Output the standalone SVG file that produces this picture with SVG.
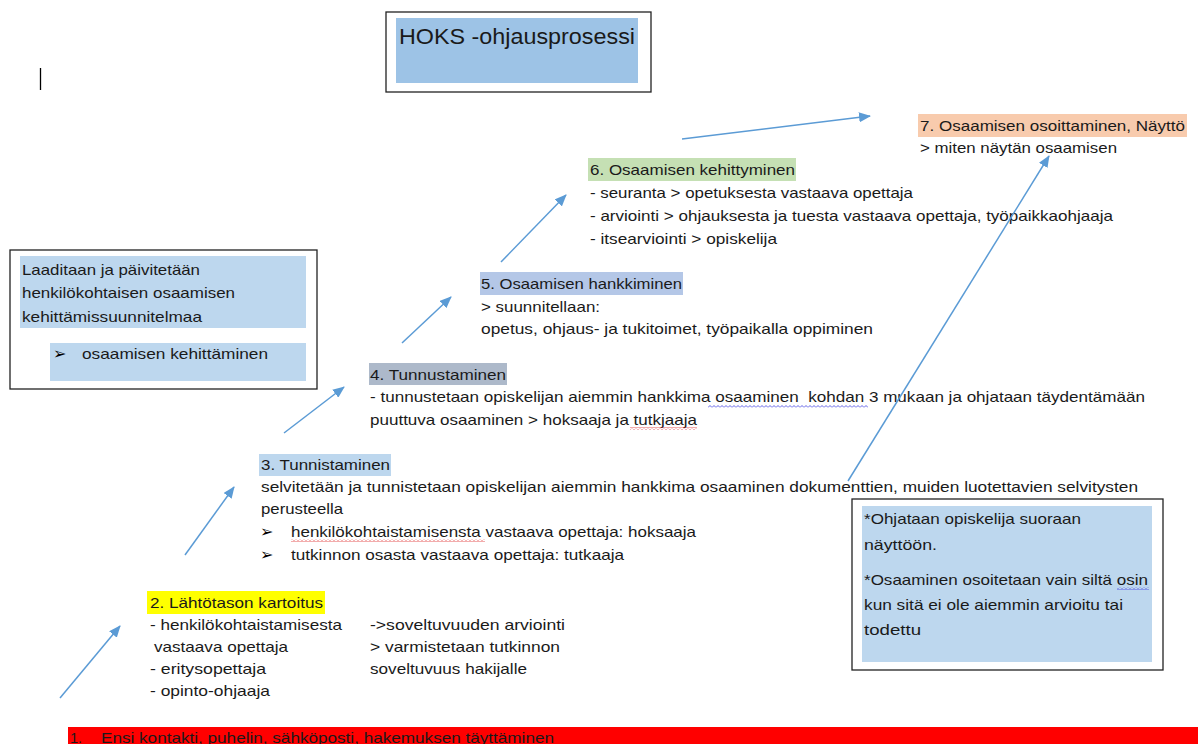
<svg xmlns="http://www.w3.org/2000/svg" width="1198" height="744" viewBox="0 0 1198 744">
<style>
text{font-family:"Liberation Sans",Arial,sans-serif;font-size:14.5px;fill:#1a1a1a}
.t{font-size:22px}
.bul{font-family:"DejaVu Sans",sans-serif;font-size:16px;font-weight:bold;fill:#000}
.frame{fill:#fff;stroke:#222;stroke-width:1.3}
.conn{stroke:#5b9bd5;stroke-width:1.5;fill:none;marker-end:url(#ah)}
</style>
<defs>
<marker id="ah" viewBox="0 0 12 10" refX="11" refY="5" markerWidth="12" markerHeight="10" markerUnits="userSpaceOnUse" orient="auto">
<path d="M0,0 L12,5 L0,10 Z" fill="#5b9bd5"/>
</marker>
<pattern id="wr" width="4" height="3" patternUnits="userSpaceOnUse"><path d="M0,2.5 L2,0.5 L4,2.5" fill="none" stroke="#e03030" stroke-width="0.8"/></pattern>
<pattern id="wb" width="4" height="3" patternUnits="userSpaceOnUse"><path d="M0,2.5 L2,0.5 L4,2.5" fill="none" stroke="#3a3ae0" stroke-width="0.8"/></pattern>
</defs>
<rect width="1198" height="744" fill="#fff"/>
<line x1="40.5" y1="68" x2="40.5" y2="90" stroke="#000" stroke-width="1.3"/>

<g id="title">
<rect class="frame" x="386" y="12" width="265" height="80"/>
<rect x="396" y="18" width="242" height="65" fill="#9dc3e6"/>
<text class="t" x="399" y="44" textLength="236" lengthAdjust="spacingAndGlyphs">HOKS -ohjausprosessi</text>
</g>

<g id="hoks-box">
<rect class="frame" x="10" y="250" width="307" height="139"/>
<rect x="20" y="256" width="286" height="72" fill="#bdd7ee"/>
<text x="22" y="275" textLength="178" lengthAdjust="spacingAndGlyphs">Laaditaan ja päivitetään</text>
<text x="22" y="298" textLength="213" lengthAdjust="spacingAndGlyphs">henkilökohtaisen osaamisen</text>
<text x="22" y="322" textLength="180" lengthAdjust="spacingAndGlyphs">kehittämissuunnitelmaa</text>
<rect x="50" y="343" width="256" height="38" fill="#bdd7ee"/>
<text class="bul" x="53" y="359">➢</text>
<text x="82" y="359" textLength="186" lengthAdjust="spacingAndGlyphs">osaamisen kehittäminen</text>
</g>

<g id="step7">
<rect x="918" y="114" width="269" height="23" fill="#f8cbad"/>
<text x="920" y="131" textLength="265" lengthAdjust="spacingAndGlyphs">7. Osaamisen osoittaminen, Näyttö</text>
<text x="920" y="153" textLength="197" lengthAdjust="spacingAndGlyphs">&gt; miten näytän osaamisen</text>
</g>

<g id="step6">
<rect x="588" y="158" width="208" height="23" fill="#c5e0b4"/>
<text x="590" y="175" textLength="205" lengthAdjust="spacingAndGlyphs">6. Osaamisen kehittyminen</text>
<text x="590" y="198" textLength="323" lengthAdjust="spacingAndGlyphs">- seuranta &gt; opetuksesta vastaava opettaja</text>
<text x="590" y="221" textLength="523" lengthAdjust="spacingAndGlyphs">- arviointi &gt; ohjauksesta ja tuesta vastaava opettaja, työpaikkaohjaaja</text>
<text x="590" y="244" textLength="187" lengthAdjust="spacingAndGlyphs">- itsearviointi &gt; opiskelija</text>
</g>

<g id="step5">
<rect x="480" y="272" width="203" height="23" fill="#b4c7e7"/>
<text x="481" y="289" textLength="201" lengthAdjust="spacingAndGlyphs">5. Osaamisen hankkiminen</text>
<text x="481" y="312" textLength="119" lengthAdjust="spacingAndGlyphs">&gt; suunnitellaan:</text>
<text x="481" y="334" textLength="392" lengthAdjust="spacingAndGlyphs">opetus, ohjaus- ja tukitoimet, työpaikalla oppiminen</text>
</g>

<g id="step4">
<rect x="369" y="363" width="138" height="22" fill="#adb9ca"/>
<text x="370" y="380" textLength="136" lengthAdjust="spacingAndGlyphs">4. Tunnustaminen</text>
<text x="370" y="402" textLength="775" lengthAdjust="spacingAndGlyphs" xml:space="preserve">- tunnustetaan opiskelijan aiemmin hankkima osaaminen  kohdan 3 mukaan ja ohjataan täydentämään</text>
<text x="370" y="425" textLength="327" lengthAdjust="spacingAndGlyphs">puuttuva osaaminen &gt; hoksaaja ja tutkjaaja</text>
<rect x="708" y="405" width="160" height="3" fill="url(#wb)"/>
<rect x="630" y="427" width="67" height="3" fill="url(#wr)"/>
</g>

<g id="step3">
<rect x="259" y="454" width="132" height="22" fill="#bdd7ee"/>
<text x="261" y="470" textLength="129" lengthAdjust="spacingAndGlyphs">3. Tunnistaminen</text>
<text x="261" y="492" textLength="877" lengthAdjust="spacingAndGlyphs">selvitetään ja tunnistetaan opiskelijan aiemmin hankkima osaaminen dokumenttien, muiden luotettavien selvitysten</text>
<text x="261" y="514" textLength="82" lengthAdjust="spacingAndGlyphs">perusteella</text>
<text class="bul" x="260" y="537">➢</text>
<text x="291" y="537" textLength="405" lengthAdjust="spacingAndGlyphs">henkilökohtaistamisensta vastaava opettaja: hoksaaja</text>
<text class="bul" x="260" y="560">➢</text>
<text x="291" y="560" textLength="333" lengthAdjust="spacingAndGlyphs">tutkinnon osasta vastaava opettaja: tutkaaja</text>
<rect x="291" y="539" width="194" height="3" fill="url(#wr)"/>
</g>

<g id="step2">
<rect x="147" y="591" width="178" height="23" fill="#ffff00"/>
<text x="150" y="608" textLength="173" lengthAdjust="spacingAndGlyphs">2. Lähtötason kartoitus</text>
<text x="150" y="630" textLength="192" lengthAdjust="spacingAndGlyphs">- henkilökohtaistamisesta</text>
<text x="154" y="652" textLength="134" lengthAdjust="spacingAndGlyphs">vastaava opettaja</text>
<text x="150" y="674" textLength="116" lengthAdjust="spacingAndGlyphs">- eritysopettaja</text>
<text x="150" y="696" textLength="120" lengthAdjust="spacingAndGlyphs">- opinto-ohjaaja</text>
<text x="370" y="630" textLength="195" lengthAdjust="spacingAndGlyphs">-&gt;soveltuvuuden arviointi</text>
<text x="370" y="652" textLength="190" lengthAdjust="spacingAndGlyphs">&gt; varmistetaan tutkinnon</text>
<text x="370" y="674" textLength="157" lengthAdjust="spacingAndGlyphs">soveltuvuus hakijalle</text>
</g>

<g id="step1">
<rect x="68" y="727" width="1130" height="17" fill="#ff0000"/>
<text x="70" y="743">1.</text>
<text x="101" y="743" textLength="453" lengthAdjust="spacingAndGlyphs">Ensi kontakti, puhelin, sähköposti, hakemuksen täyttäminen</text>
</g>

<g id="note">
<rect class="frame" x="852" y="499" width="311" height="171"/>
<rect x="862" y="506" width="290" height="156" fill="#bdd7ee"/>
<text x="864" y="524" textLength="217" lengthAdjust="spacingAndGlyphs">*Ohjataan opiskelija suoraan</text>
<text x="864" y="550" textLength="73" lengthAdjust="spacingAndGlyphs">näyttöön.</text>
<text x="864" y="585" textLength="284" lengthAdjust="spacingAndGlyphs">*Osaaminen osoitetaan vain siltä osin</text>
<text x="864" y="610" textLength="259" lengthAdjust="spacingAndGlyphs">kun sitä ei ole aiemmin arvioitu tai</text>
<text x="864" y="635" textLength="57" lengthAdjust="spacingAndGlyphs">todettu</text>
<rect x="1117" y="587" width="32" height="3" fill="url(#wb)"/>
</g>

<g id="connectors">
<line class="conn" x1="60" y1="698" x2="120" y2="626"/>
<line class="conn" x1="185" y1="555" x2="234" y2="487"/>
<line class="conn" x1="284" y1="433" x2="344" y2="387"/>
<line class="conn" x1="402" y1="343" x2="451" y2="297"/>
<line class="conn" x1="501" y1="262" x2="566" y2="195"/>
<line class="conn" x1="682" y1="139" x2="870" y2="116"/>
<line class="conn" x1="848" y1="481" x2="1049" y2="156"/>
</g>
</svg>
